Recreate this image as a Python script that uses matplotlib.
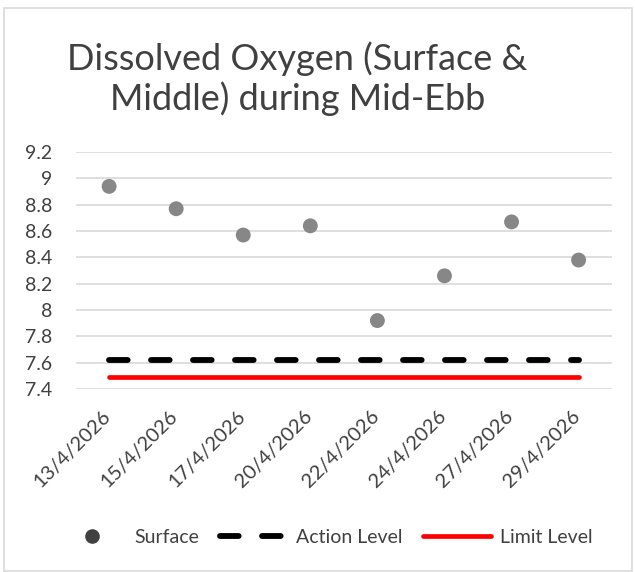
import matplotlib
matplotlib.use("Agg")
import matplotlib.pyplot as plt
from matplotlib.lines import Line2D
from matplotlib.patches import Rectangle
from matplotlib.transforms import ScaledTranslation

plt.rcParams['font.family'] = ['Lato', 'DejaVu Sans']

dates = ["13/4/2026", "15/4/2026", "17/4/2026", "20/4/2026",
         "22/4/2026", "24/4/2026", "27/4/2026", "29/4/2026"]
surface = [8.94, 8.77, 8.57, 8.64, 7.92, 8.26, 8.67, 8.38]
action_level = [7.62] * 8
limit_level = [7.49] * 8
yticks = [7.4, 7.6, 7.8, 8.0, 8.2, 8.4, 8.6, 8.8, 9.0, 9.2]
ytick_labels = ["7.4", "7.6", "7.8", "8", "8.2", "8.4", "8.6", "8.8", "9", "9.2"]

fig = plt.figure(figsize=(6.35, 5.72), dpi=100)
fig.patches.append(Rectangle((0.006, 0.002), 0.99, 0.984, transform=fig.transFigure,
                             fill=False, edgecolor="#d9d9d9", linewidth=1.2))
ax = fig.add_axes([0.119, 0.320, 0.845, 0.414])

x = list(range(len(dates)))
ax.plot(x, action_level, color="black", linewidth=4.2, dashes=(3.2, 4.0),
        dash_capstyle="round", label="Action Level", zorder=3)
ax.plot(x, limit_level, color="#ff0000", linewidth=3.4, solid_capstyle="round",
        label="Limit Level", zorder=3)
ax.scatter(x, surface, s=115, color="#878787", edgecolors="none", zorder=4, label="Surface")

ax.set_xlim(-0.5, len(dates) - 0.5)
ax.set_ylim(7.4, 9.2)
ax.set_yticks(yticks)
ax.set_yticklabels(ytick_labels)
ax.set_xticks(x)
ax.set_xticklabels(dates, rotation=45, ha="right", rotation_mode="anchor")
ax.yaxis.grid(True, color="#d9d9d9", linewidth=1.2)
ax.set_axisbelow(True)
for s in ax.spines.values():
    s.set_visible(False)
ax.tick_params(axis="both", length=0, colors="#404040")
ax.tick_params(axis="y", pad=17, labelsize=14)
ax.tick_params(axis="x", pad=13, labelsize=14.5)
for lab in ax.get_xticklabels():
    lab.set_transform(lab.get_transform() + ScaledTranslation(-5 / 72, 0, fig.dpi_scale_trans))

fig.text(0.468, 0.862, "Dissolved Oxygen (Surface &\nMiddle) during Mid-Ebb",
         ha="center", va="center", fontsize=26, color="#404040", linespacing=1.2)

handles = [
    Line2D([], [], marker="o", linestyle="none", color="#404040", markersize=9.5),
    Line2D([], [], color="black", linewidth=4.2, dashes=(3.2, 4.0), dash_capstyle="round"),
    Line2D([], [], color="#ff0000", linewidth=3.4, solid_capstyle="round"),
]
fig.legend(handles, ["Surface", "Action Level", "Limit Level"], loc="center",
           bbox_to_anchor=(0.512, 0.061), ncol=3, frameon=False, fontsize=14,
           handlelength=3.5, columnspacing=1.05, handletextpad=0.45,
           labelcolor="#404040")

fig.savefig("out.png", dpi=100)
